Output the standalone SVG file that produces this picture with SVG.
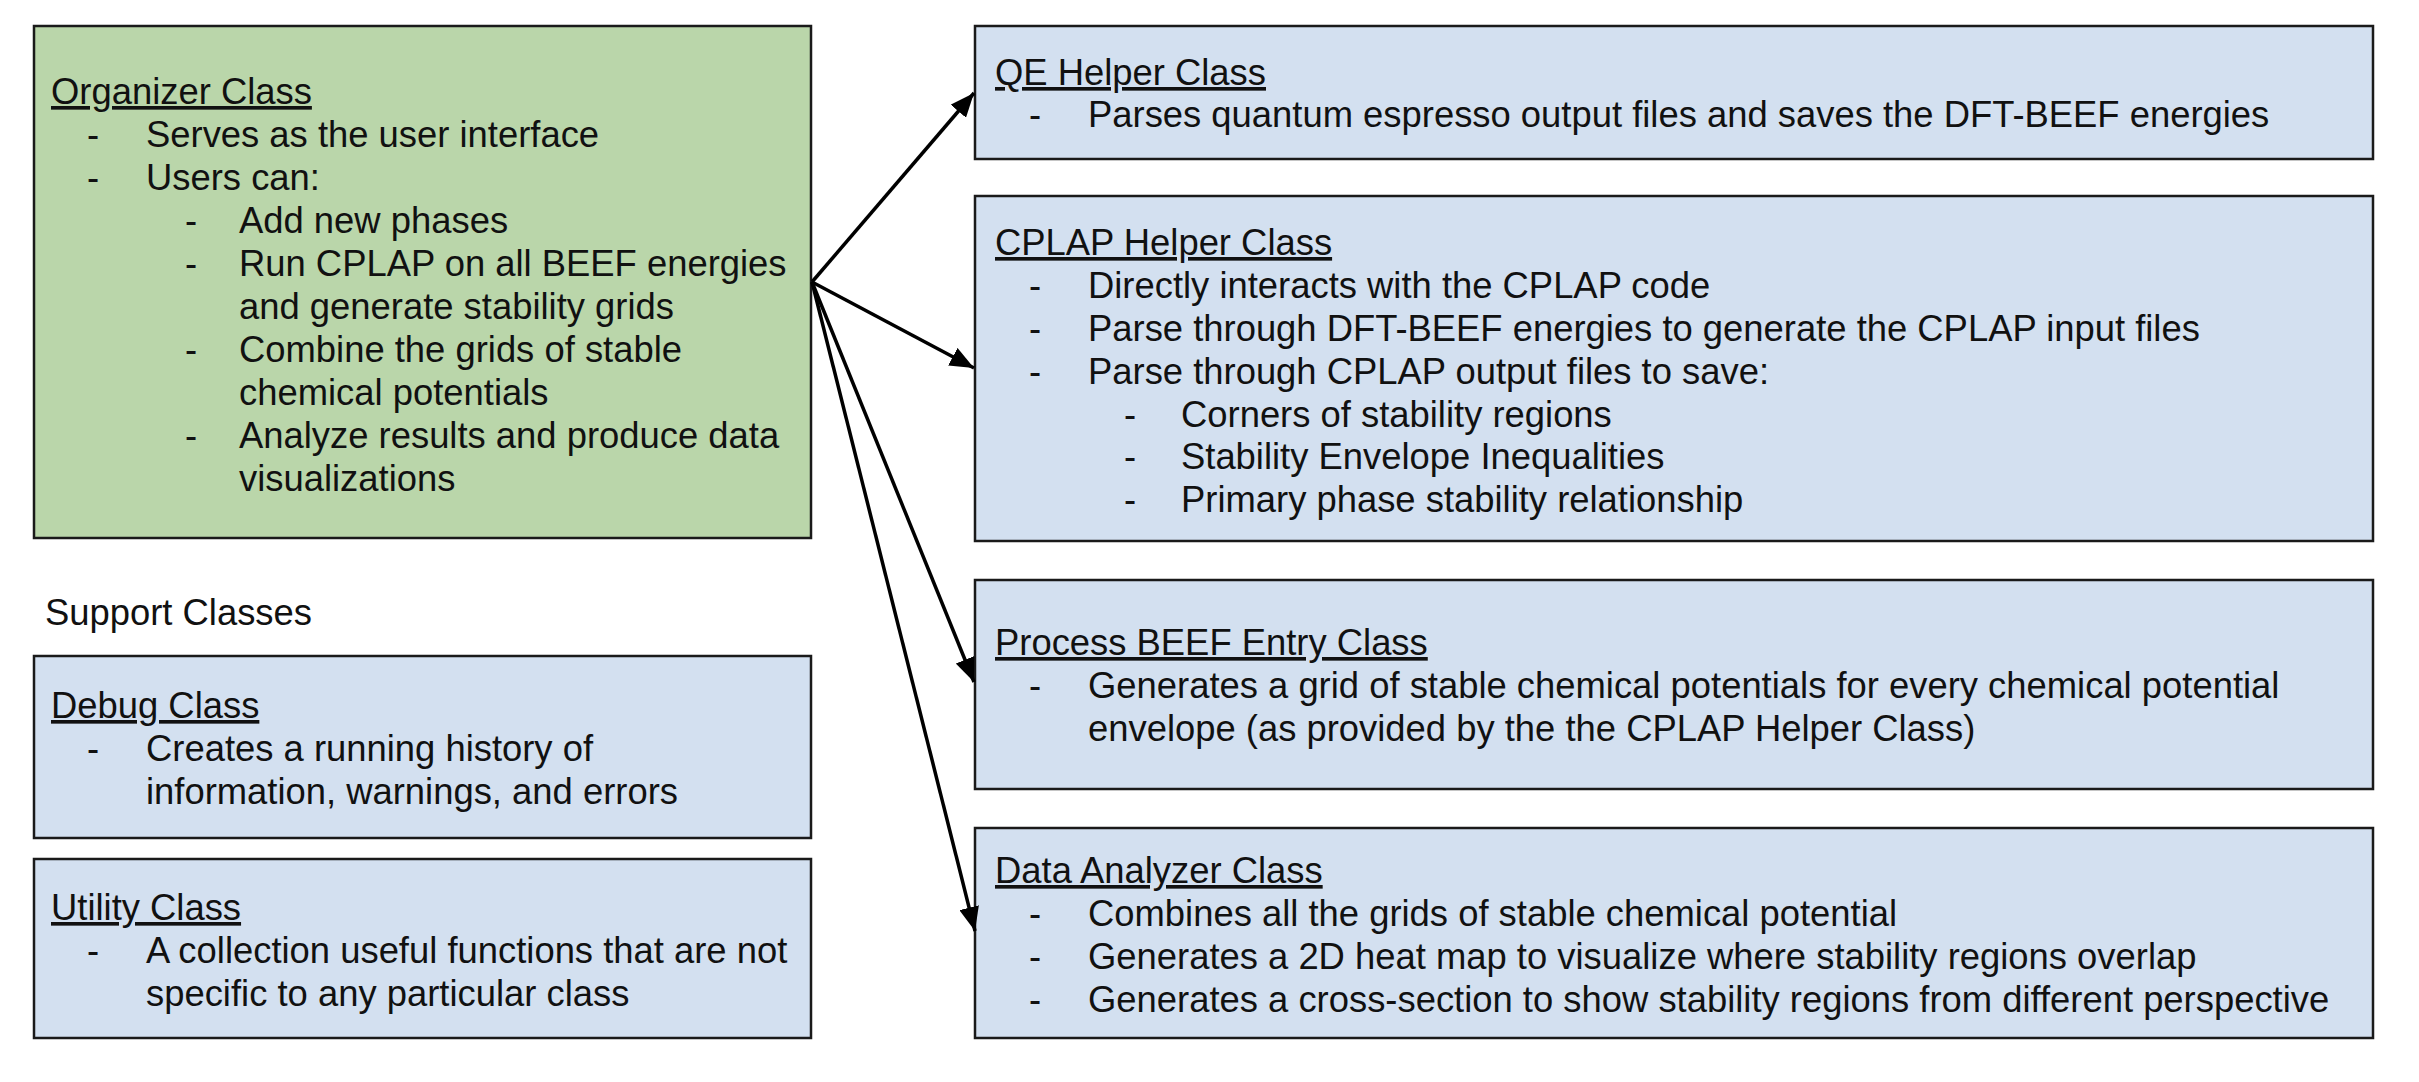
<svg xmlns="http://www.w3.org/2000/svg" width="2419" height="1082" viewBox="0 0 2419 1082">
<style>
.g{fill:#bad6aa;stroke:#1a1a1a;stroke-width:2.5}
.b{fill:#d3e0f0;stroke:#1a1a1a;stroke-width:2.5}
text{font-family:"Liberation Sans",Arial,sans-serif;font-size:36.4px;fill:#111}
.h{text-decoration:underline}
.c{stroke:#000;stroke-width:3.5;fill:none;marker-end:url(#ah)}
</style>
<defs>
<marker id="ah" markerUnits="userSpaceOnUse" markerWidth="26" markerHeight="20" refX="24" refY="10" orient="auto">
<path d="M0,0 L24,10 L0,20 Z" fill="#000"/>
</marker>
</defs>
<rect width="2419" height="1082" fill="#fff"/>
<g id="organizer">
<rect class="g" x="34" y="26" width="777" height="512"/>
<text class="h" x="51" y="104">Organizer Class</text>
<text x="87" y="147">-</text><text x="146" y="147">Serves as the user interface</text>
<text x="87" y="190">-</text><text x="146" y="190">Users can:</text>
<text x="185" y="233">-</text><text x="239" y="233">Add new phases</text>
<text x="185" y="276">-</text><text x="239" y="276">Run CPLAP on all BEEF energies</text>
<text x="239" y="319">and generate stability grids</text>
<text x="185" y="362">-</text><text x="239" y="362">Combine the grids of stable</text>
<text x="239" y="405">chemical potentials</text>
<text x="185" y="448">-</text><text x="239" y="448">Analyze results and produce data</text>
<text x="239" y="491">visualizations</text>
</g>
<g id="support-label">
<text x="45" y="625">Support Classes</text>
</g>
<g id="debug">
<rect class="b" x="34" y="656" width="777" height="182"/>
<text class="h" x="51" y="718">Debug Class</text>
<text x="87" y="761">-</text><text x="146" y="761">Creates a running history of</text>
<text x="146" y="804">information, warnings, and errors</text>
</g>
<g id="utility">
<rect class="b" x="34" y="859" width="777" height="179"/>
<text class="h" x="51" y="920">Utility Class</text>
<text x="87" y="963">-</text><text x="146" y="963">A collection useful functions that are not</text>
<text x="146" y="1006">specific to any particular class</text>
</g>
<g id="qe">
<rect class="b" x="975" y="26" width="1398" height="133"/>
<text class="h" x="995" y="85">QE Helper Class</text>
<text x="1029" y="127">-</text><text x="1088" y="127">Parses quantum espresso output files and saves the DFT-BEEF energies</text>
</g>
<g id="cplap">
<rect class="b" x="975" y="196" width="1398" height="345"/>
<text class="h" x="995" y="255">CPLAP Helper Class</text>
<text x="1029" y="298">-</text><text x="1088" y="298">Directly interacts with the CPLAP code</text>
<text x="1029" y="341">-</text><text x="1088" y="341">Parse through DFT-BEEF energies to generate the CPLAP input files</text>
<text x="1029" y="384">-</text><text x="1088" y="384">Parse through CPLAP output files to save:</text>
<text x="1124" y="427">-</text><text x="1181" y="427">Corners of stability regions</text>
<text x="1124" y="469">-</text><text x="1181" y="469">Stability Envelope Inequalities</text>
<text x="1124" y="512">-</text><text x="1181" y="512">Primary phase stability relationship</text>
</g>
<g id="process">
<rect class="b" x="975" y="580" width="1398" height="209"/>
<text class="h" x="995" y="655">Process BEEF Entry Class</text>
<text x="1029" y="698">-</text><text x="1088" y="698">Generates a grid of stable chemical potentials for every chemical potential</text>
<text x="1088" y="741">envelope (as provided by the the CPLAP Helper Class)</text>
</g>
<g id="analyzer">
<rect class="b" x="975" y="828" width="1398" height="210"/>
<text class="h" x="995" y="883">Data Analyzer Class</text>
<text x="1029" y="926">-</text><text x="1088" y="926">Combines all the grids of stable chemical potential</text>
<text x="1029" y="969">-</text><text x="1088" y="969">Generates a 2D heat map to visualize where stability regions overlap</text>
<text x="1029" y="1012">-</text><text x="1088" y="1012">Generates a cross-section to show stability regions from different perspective</text>
</g>
<g id="connectors">
<line class="c" x1="812" y1="282" x2="974" y2="93"/>
<line class="c" x1="812" y1="282" x2="974" y2="368"/>
<line class="c" x1="812" y1="282" x2="974" y2="682"/>
<line class="c" x1="812" y1="282" x2="975" y2="931"/>
</g>
</svg>
